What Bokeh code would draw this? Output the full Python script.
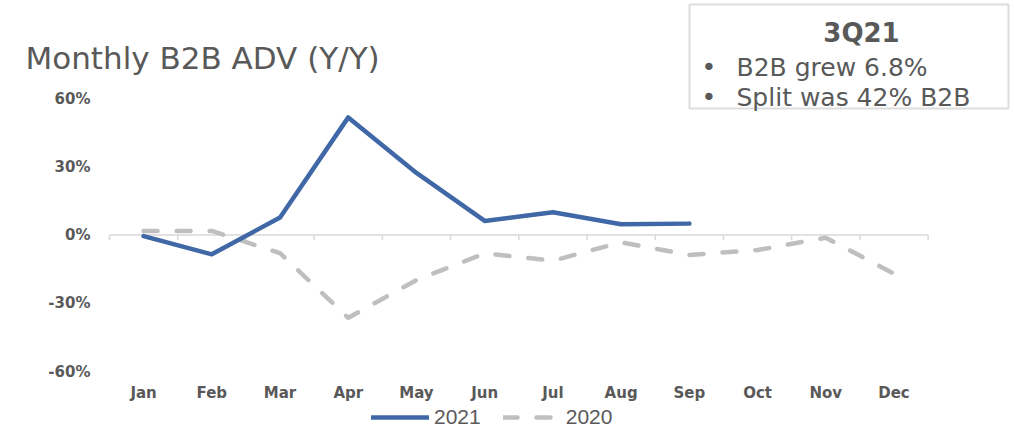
from bokeh.plotting import figure
from bokeh.models import (Range1d, FixedTicker, PrintfTickFormatter, Label,
                          BoxAnnotation, Legend, LegendItem, LinearAxis)
from bokeh.embed import file_html
from bokeh.resources import INLINE

# Month categories and year-over-year change in B2B average daily volume (%)
months = ["Jan", "Feb", "Mar", "Apr", "May", "Jun",
          "Jul", "Aug", "Sep", "Oct", "Nov", "Dec"]
adv_2021 = [-0.5, -8.5, 7.7, 51.7, 27.3, 6.2, 10.0, 4.7, 5.0]
adv_2020 = [1.8, 1.8, -8.0, -36.4, -19.8, -8.1, -11.3, -3.2, -8.8, -6.6, -1.2, -17.0]
y_ticks = [-60, -30, 0, 30, 60]

title_text = "Monthly B2B ADV (Y/Y)"
box_heading = "3Q21"
box_bullets = ["B2B grew 6.8%", "Split was 42% B2B"]

TEXT = "#595959"
BLUE = "#4068A6"
GRAY = "#BFBFBF"
AXIS = "#D9D9D9"

W, H = 1014, 441
# pixel box of the value area: months span LEFT..RIGHT, ticks span TOP..BOTTOM
LEFT, RIGHT, TOP, BOTTOM = 109, 927.6, 98, 371
n = len(months)
PX_PER_X = (RIGHT - LEFT) / n
PX_PER_Y = (BOTTOM - TOP) / (y_ticks[-1] - y_ticks[0])

def fx(px):
    return (px - LEFT) / PX_PER_X

def fy(py):
    return y_ticks[-1] - (py - TOP) / PX_PER_Y

# the frame fills the canvas so titles, legend and call-out box stay visible
p = figure(width=W, height=H, output_backend="svg", toolbar_location=None,
           x_range=Range1d(fx(0), fx(W)), y_range=Range1d(fy(H), fy(0)),
           x_axis_location=None, y_axis_location=None, min_border=0)
p.outline_line_color = None
p.xgrid.visible = False
p.ygrid.visible = False
p.background_fill_color = "white"
p.border_fill_color = "white"

# category centres sit at index + 0.5
x_centres = [i + 0.5 for i in range(n)]

xaxis = LinearAxis(fixed_location=y_ticks[0],
                   ticker=FixedTicker(ticks=x_centres),
                   major_label_overrides={c: m for c, m in zip(x_centres, months)},
                   axis_line_color=None, major_tick_line_color=None,
                   minor_tick_line_color=None, major_tick_out=0, major_tick_in=0,
                   major_label_standoff=12,
                   major_label_text_font="DejaVu Sans",
                   major_label_text_font_style="bold",
                   major_label_text_font_size="15px",
                   major_label_text_color=TEXT)
p.add_layout(xaxis, "below")

yaxis = LinearAxis(fixed_location=0,
                   ticker=FixedTicker(ticks=y_ticks),
                   formatter=PrintfTickFormatter(format="%d%%"),
                   axis_line_color=None, major_tick_line_color=None,
                   minor_tick_line_color=None, major_tick_out=0, major_tick_in=0,
                   major_label_standoff=19,
                   major_label_text_font="DejaVu Sans",
                   major_label_text_font_style="bold",
                   major_label_text_font_size="15px",
                   major_label_text_color=TEXT)
p.add_layout(yaxis, "left")

# zero line with small tick marks between months
p.segment(x0=[0], y0=[0], x1=[n], y1=[0], line_color=AXIS, line_width=1.5)
bounds = list(range(n + 1))
p.segment(x0=bounds, y0=[0] * len(bounds), x1=bounds,
          y1=[-5 / PX_PER_Y] * len(bounds), line_color=AXIS, line_width=1.5)

r20 = p.line(x_centres[:len(adv_2020)], adv_2020, line_color=GRAY, line_width=4.5,
             line_dash="14 19", line_join="round", line_cap="round")
r21 = p.line(x_centres[:len(adv_2021)], adv_2021, line_color=BLUE, line_width=4.5,
             line_join="round", line_cap="round")

legend = Legend(items=[LegendItem(label="2021", renderers=[r21]),
                       LegendItem(label="2020", renderers=[r20])],
                orientation="horizontal", location=(371, H - 429),
                glyph_width=58, glyph_height=20, label_height=20,
                label_standoff=5, spacing=22, padding=0, margin=0,
                border_line_color=None, background_fill_alpha=0,
                label_text_font="Liberation Sans", label_text_font_size="21px",
                label_text_color=TEXT)
p.add_layout(legend, "center")

p.add_layout(Label(x=fx(25), y=fy(57), text=title_text,
                   text_font="DejaVu Sans", text_font_size="31px",
                   text_color=TEXT, text_baseline="alphabetic"))

p.add_layout(BoxAnnotation(left=fx(689), right=fx(1008), top=fy(4), bottom=fy(108),
                           fill_color="white", fill_alpha=1,
                           line_color="#909090", line_width=2))
p.add_layout(Label(x=fx(861), y=fy(32), text=box_heading, text_align="center",
                   text_font="DejaVu Sans", text_font_style="bold",
                   text_font_size="26px", text_color=TEXT,
                   text_baseline="alphabetic"))
for i, line in enumerate(box_bullets):
    base = 67 + 30 * i
    p.add_layout(Label(x=fx(701), y=fy(base), text="\u2022",
                       text_font="DejaVu Sans", text_font_size="25px",
                       text_color=TEXT, text_baseline="alphabetic"))
    p.add_layout(Label(x=fx(736), y=fy(base), text=line,
                       text_font="DejaVu Sans", text_font_size="25px",
                       text_color=TEXT, text_baseline="alphabetic"))

open("out.html", "w").write(file_html(p, INLINE))
